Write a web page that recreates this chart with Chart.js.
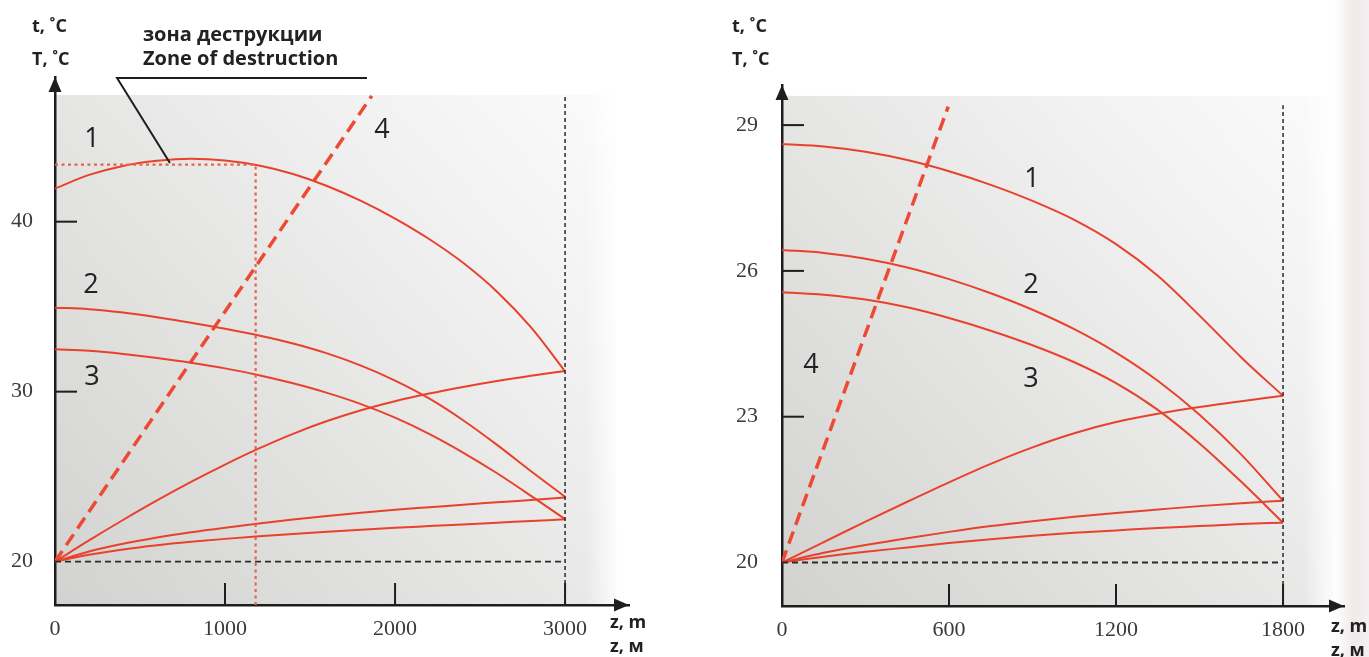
<!DOCTYPE html>
<html><head><meta charset="utf-8">
<script src="https://cdn.jsdelivr.net/npm/chart.js@4.4.1/dist/chart.umd.min.js"></script>
<style>
html,body{margin:0;padding:0;background:#fff;width:1369px;height:657px;overflow:hidden;}
#wrap{position:relative;width:1369px;height:657px;}
#edge{position:absolute;left:1334px;top:0;width:35px;height:657px;background:linear-gradient(to right, rgba(255,255,255,0), #f1e9ea 55%, #f4eff0);}
#cL{position:absolute;left:0;top:0;}
#cR{position:absolute;left:684px;top:0;}
</style></head>
<body><div id="wrap"><div id="edge"></div><canvas id="cL" width="684" height="657"></canvas><canvas id="cR" width="685" height="657"></canvas></div>
<script>
// ---------- DATA ----------
// Left chart: depth z, m
const zLeft  = [0,200,400,600,800,1000,1200,1400,1600,1800,2000,2200,2400,2600,2800,3000];
const tLeft1 = [41.95,42.75,43.28,43.58,43.7,43.6,43.3,42.8,42.1,41.22,40.18,38.98,37.58,35.88,33.78,31.2];
const tLeft2 = [34.94,34.85,34.65,34.38,34.06,33.7,33.3,32.83,32.25,31.53,30.65,29.6,28.32,26.87,25.32,23.82];
const tLeft3 = [32.49,32.4,32.22,31.98,31.7,31.37,30.97,30.49,29.93,29.27,28.47,27.52,26.42,25.2,23.87,22.5];
const TLeft1 = [20,21.25,22.45,23.6,24.69,25.71,26.66,27.52,28.27,28.91,29.44,29.89,30.28,30.63,30.94,31.22];
const TLeft2 = [20,20.6,21.05,21.42,21.73,22.0,22.25,22.48,22.69,22.88,23.05,23.2,23.35,23.49,23.63,23.77];
const TLeft3 = [20,20.4,20.72,20.97,21.17,21.34,21.49,21.63,21.76,21.88,21.99,22.09,22.19,22.29,22.39,22.49];
const line4LeftZ = [0,1863];
const line4LeftT = [20,47.4];
const zoneZ = 1180;      // zone of destruction depth
const zoneT = 43.35;     // zone of destruction temperature
const leaderZ = [676,365,1835];
const leaderT = [43.45,48.45,48.45];
const xTicksLeft = [0,1000,2000,3000];
const yTicksLeft = [20,30,40];

// Right chart
const zRight  = [0,150,300,450,600,750,900,1050,1200,1350,1500,1650,1800];
const tRight1 = [28.61,28.56,28.45,28.28,28.05,27.77,27.44,27.05,26.55,25.9,25.08,24.22,23.43];
const tRight2 = [26.43,26.37,26.25,26.07,25.83,25.54,25.2,24.8,24.32,23.74,23.04,22.22,21.27];
const tRight3 = [25.56,25.51,25.41,25.25,25.03,24.77,24.47,24.12,23.69,23.14,22.45,21.66,20.82];
const TRight1 = [20,20.42,20.84,21.25,21.65,22.03,22.37,22.66,22.89,23.06,23.2,23.32,23.43];
const TRight2 = [20,20.2,20.36,20.5,20.63,20.75,20.85,20.94,21.02,21.09,21.16,21.22,21.27];
const TRight3 = [20,20.12,20.22,20.31,20.4,20.48,20.55,20.61,20.66,20.71,20.75,20.79,20.82];
const line4RightZ = [0,597];
const line4RightT = [20,29.38];
const xTicksRight = [0,600,1200,1800];
const yTicksRight = [20,23,26,29];

// ---------- STYLE ----------
const RED = '#e8412c';
const RED_DASH = '#ec4a35';
const RED_DOT = '#e6644e';
const INK = '#1e1e1e';
const SERIF = "'Liberation Serif','DejaVu Serif',serif";
const SANS = "'Open Sans','Noto Sans',sans-serif";

function pts(zs, vs){ return zs.map((z,i)=>({x:z,y:vs[i]})); }
function curve(data){ return {data, borderColor:RED, borderWidth:2, pointRadius:0, cubicInterpolationMode:'monotone', fill:false}; }
function straight(data, color, width, dash){ return {data, borderColor:color, borderWidth:width, borderDash:dash, pointRadius:0, tension:0, fill:false}; }

function decor(cfg){
  return {
    id:'decor',
    beforeDraw(chart){
      const ctx = chart.ctx, xs = chart.scales.x, ys = chart.scales.y;
      const x0 = xs.getPixelForValue(0), x1 = xs.getPixelForValue(cfg.bgZmax);
      const yb = ys.getPixelForValue(ys.min), yt = ys.getPixelForValue(cfg.bgTop);
      ctx.save();
      const g = ctx.createLinearGradient(x0, yb, x1, yt);
      g.addColorStop(0, '#d2d2d0');
      g.addColorStop(0.4, '#e3e3e2');
      g.addColorStop(0.75, '#f2f2f2');
      g.addColorStop(1, '#fbfbfb');
      ctx.fillStyle = g;
      ctx.fillRect(x0, yt, x1 - x0, yb - yt);
      const h = ctx.createLinearGradient(x1 - 30, 0, x1, 0);
      h.addColorStop(0, 'rgba(255,255,255,0)');
      h.addColorStop(1, 'rgba(255,255,255,0.85)');
      ctx.fillStyle = h;
      ctx.fillRect(x1 - 30, yt, 30, yb - yt);
      ctx.restore();
    },
    afterDraw(chart){
      const ctx = chart.ctx, xs = chart.scales.x, ys = chart.scales.y, a = chart.chartArea;
      ctx.save();
      // inner tick marks
      ctx.strokeStyle = INK; ctx.lineWidth = 2;
      cfg.xMarks.forEach(v=>{ const p = xs.getPixelForValue(v); ctx.beginPath(); ctx.moveTo(p, a.bottom); ctx.lineTo(p, a.bottom-22); ctx.stroke(); });
      cfg.yMarks.forEach(v=>{ const p = ys.getPixelForValue(v); ctx.beginPath(); ctx.moveTo(a.left, p); ctx.lineTo(a.left+22, p); ctx.stroke(); });
      // arrows
      ctx.fillStyle = INK;
      ctx.beginPath(); ctx.moveTo(a.left, a.top); ctx.lineTo(a.left-6.5, a.top+15); ctx.lineTo(a.left+6.5, a.top+15); ctx.closePath(); ctx.fill();
      ctx.beginPath(); ctx.moveTo(a.right, a.bottom); ctx.lineTo(a.right-15, a.bottom-6.5); ctx.lineTo(a.right-15, a.bottom+6.5); ctx.closePath(); ctx.fill();
      // leader line
      if (cfg.leader){
        ctx.strokeStyle = INK; ctx.lineWidth = 2;
        ctx.beginPath();
        cfg.leader.z.forEach((z,i)=>{ const px = xs.getPixelForValue(z), py = ys.getPixelForValue(cfg.leader.t[i]); if(i===0) ctx.moveTo(px,py); else ctx.lineTo(px,py); });
        ctx.stroke();
      }
      // texts
      cfg.texts.forEach(t=>{
        ctx.font = t.font; ctx.fillStyle = t.color || '#222';
        ctx.textAlign = t.align || 'left'; ctx.textBaseline = 'alphabetic';
        ctx.fillText(t.s, t.x, t.y);
      });
      ctx.restore();
    }
  };
}

function makeChart(id, o){
  return new Chart(document.getElementById(id), {
    type:'line',
    data:{ datasets:o.datasets },
    options:{
      responsive:false, animation:false, devicePixelRatio:1, events:[],
      layout:{ padding:o.padding },
      plugins:{ legend:{display:false}, tooltip:{enabled:false} },
      scales:{
        x:{ type:'linear', min:0, max:o.xMax,
            afterBuildTicks:(s)=>{ s.ticks = o.xTicks.map(v=>({value:v})); },
            afterFit:(s)=>{ s.height = o.xHeight; },
            grid:{display:false, drawTicks:false},
            border:{display:true, color:INK, width:2.5},
            ticks:{ font:{family:SERIF, size:22}, color:'#3a3a3a', padding:11, maxRotation:0, autoSkip:false,
                    callback:(v)=>String(v) } },
        y:{ type:'linear', min:o.yMin, max:o.yMax,
            afterBuildTicks:(s)=>{ s.ticks = o.yTicks.map(v=>({value:v})); },
            afterFit:(s)=>{ s.width = o.yWidth; },
            grid:{display:false, drawTicks:false},
            border:{display:true, color:INK, width:2.5},
            ticks:{ font:{family:SERIF, size:22}, color:'#3a3a3a', padding:o.yPad, autoSkip:false,
                    callback:(v)=>String(v) } }
      }
    },
    plugins:[decor(o.decor)]
  });
}

const bold18 = "700 18px " + SANS, bold20 = "700 20px " + SANS, num = "400 27px " + SANS;

makeChart('cL', {
  padding:{left:0, top:77, right:55, bottom:0},
  xMax:3376, yMin:17.45, yMax:48.51, xHeight:52, yWidth:55, yPad:22,
  xTicks:xTicksLeft, yTicks:yTicksLeft,
  datasets:[
    straight(pts([0,3000],[20,20]), '#2b2b2b', 1.8, [6,4]),
    straight(pts([3000,3000],[17.45,47.45]), '#2b2b2b', 1.5, [4,3]),
    straight(pts([0,zoneZ],[zoneT,zoneT]), RED_DOT, 2.2, [3,3.5]),
    straight(pts([zoneZ,zoneZ],[17.45,zoneT]), RED_DOT, 2.2, [3,3.5]),
    curve(pts(zLeft,tLeft1)), curve(pts(zLeft,tLeft2)), curve(pts(zLeft,tLeft3)),
    curve(pts(zLeft,TLeft1)), curve(pts(zLeft,TLeft2)), curve(pts(zLeft,TLeft3)),
    straight(pts(line4LeftZ,line4LeftT), RED_DASH, 3.5, [13,7])
  ],
  decor:{
    bgZmax:3300, bgTop:47.45, xMarks:[1000,2000,3000], yMarks:[30,40],
    leader:{z:leaderZ, t:leaderT},
    texts:[
      {s:'t, ˚C', x:32, y:32, font:bold18},
      {s:'T, ˚C', x:32, y:65, font:bold18},
      {s:'зона деструкции', x:143, y:41, font:bold20},
      {s:'Zone of destruction', x:143, y:65, font:bold20},
      {s:'z, m', x:610, y:628, font:bold18},
      {s:'z, м', x:610, y:652, font:bold18},
      {s:'1', x:92, y:147, font:num, align:'center'},
      {s:'2', x:91, y:293, font:num, align:'center'},
      {s:'3', x:92, y:385, font:num, align:'center'},
      {s:'4', x:382, y:138, font:num, align:'center'}
    ]
  }
});

makeChart('cR', {
  padding:{left:0, top:85, right:25, bottom:0},
  xMax:2019, yMin:19.105, yMax:29.825, xHeight:51, yWidth:98, yPad:24,
  xTicks:xTicksRight, yTicks:yTicksRight,
  datasets:[
    straight(pts([0,1800],[20,20]), '#2b2b2b', 1.8, [6,4]),
    straight(pts([1800,1800],[19.105,29.41]), '#2b2b2b', 1.5, [4,3]),
    curve(pts(zRight,tRight1)), curve(pts(zRight,tRight2)), curve(pts(zRight,tRight3)),
    curve(pts(zRight,TRight1)), curve(pts(zRight,TRight2)), curve(pts(zRight,TRight3)),
    straight(pts(line4RightZ,line4RightT), RED_DASH, 3.5, [13,7])
  ],
  decor:{
    bgZmax:1980, bgTop:29.6, xMarks:[600,1200,1800], yMarks:[23,26,29],
    texts:[
      {s:'t, ˚C', x:48, y:32, font:bold18},
      {s:'T, ˚C', x:48, y:65, font:bold18},
      {s:'z, m', x:647, y:632, font:bold18},
      {s:'z, м', x:647, y:656, font:bold18},
      {s:'1', x:348, y:187, font:num, align:'center'},
      {s:'2', x:347, y:293, font:num, align:'center'},
      {s:'3', x:347, y:387, font:num, align:'center'},
      {s:'4', x:127, y:373, font:num, align:'center'}
    ]
  }
});
</script>
</body></html>
